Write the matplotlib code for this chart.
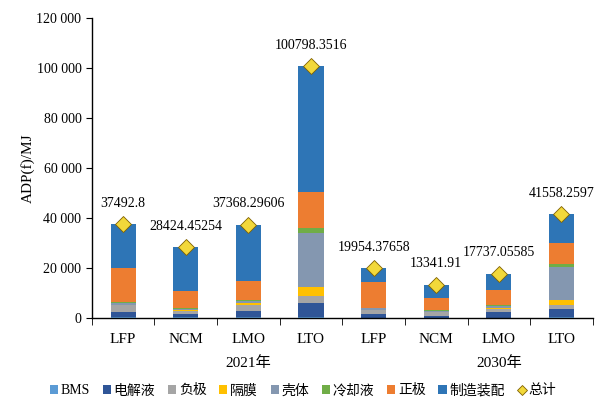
#!/usr/bin/env python3
"""Stacked ADP(f) bars per battery type, 2021 vs 2030, with totals."""

import numpy as np
import matplotlib
matplotlib.use("Agg")
import matplotlib.pyplot as plt
from matplotlib.lines import Line2D

plt.rcParams["font.family"] = ["Liberation Serif", "Noto Sans CJK SC", "DejaVu Sans"]

categories = ["LFP", "NCM", "LMO", "LTO", "LFP", "NCM", "LMO", "LTO"]
groups = ["2021年", "2030年"]
totals = [37492.8, 28424.45254, 37368.29606, 100798.3516,
          19954.37658, 13341.91, 17737.05585, 41558.2597]
total_labels = ["37492.8", "28424.45254", "37368.29606", "100798.3516",
                "19954.37658", "13341.91", "17737.05585", "41558.2597"]

bms = [200, 200, 200, 300, 150, 100, 150, 200]
electrolyte = [2300, 1400, 2700, 5800, 1350, 800, 2150, 3400]
anode = [2500, 1300, 2400, 2800, 1500, 1300, 1300, 1500]
separator = [300, 300, 800, 3600, 200, 200, 500, 2200]
shell = [600, 500, 700, 21600, 600, 400, 700, 13200]
coolant = [300, 300, 200, 1900, 300, 200, 300, 1000]
cathode = [13800, 6700, 7700, 14500, 10400, 5100, 5900, 8400]

parts = {
    "BMS": (bms, "#5B9BD5"),
    "电解液": (electrolyte, "#2F5597"),
    "负极": (anode, "#A5A5A5"),
    "隔膜": (separator, "#FFC000"),
    "壳体": (shell, "#8497B0"),
    "冷却液": (coolant, "#70AD47"),
    "正极": (cathode, "#ED7D31"),
}

fig = plt.figure(figsize=(6.0, 4.04), dpi=100)
ax = fig.add_axes([0.153, 0.213, 0.835, 0.742])

x = np.arange(len(categories))
bottom = np.zeros(len(categories))
handles = []
for name, (vals, color) in parts.items():
    h = ax.bar(x, vals, 0.4, bottom=bottom, color=color, label=name)
    handles.append(h)
    bottom += np.array(vals)

manufacturing = np.array(totals) - bottom
h = ax.bar(x, manufacturing, 0.4, bottom=bottom, color="#2E75B6", label="制造装配")
handles.append(h)

ax.plot(x, totals, linestyle="none", marker="D", markersize=8,
        markerfacecolor="#F2D83A", markeredgecolor="#7F6000",
        markeredgewidth=0.6)
# smaller diamond for the legend entry
handles.append(Line2D([], [], linestyle="none", marker="D", markersize=5,
                      markerfacecolor="#F2D83A", markeredgecolor="#7F6000",
                      markeredgewidth=0.6, label="总计"))

for xi, t, lab in zip(x, totals, total_labels):
    ax.annotate(lab, (xi, t), xytext=(0, 15), textcoords="offset points",
                ha="center", va="center", fontsize=10)

ax.set_xlim(-0.5, len(categories) - 0.5)
ax.set_ylim(0, 120000)
ax.set_yticks(np.arange(0, 120001, 20000))
ax.set_yticklabels([f"{v:,}".replace(",", " ") for v in range(0, 120001, 20000)],
                   fontsize=10)
ax.set_ylabel("ADP(f)/MJ", fontsize=11, labelpad=1)

ax.set_xticks(x)
ax.set_xticklabels(categories, fontsize=11)
ax.tick_params(axis="x", length=0, pad=11)
ax.set_xticks(np.arange(-0.5, len(categories), 1), minor=True)
ax.tick_params(axis="x", which="minor", length=5, direction="out")
ax.tick_params(axis="y", length=4, direction="out")

for side in ("top", "right"):
    ax.spines[side].set_visible(False)
for side in ("left", "bottom"):
    ax.spines[side].set_linewidth(1.0)

ax.text(2.0, -0.15, groups[0], transform=ax.get_xaxis_transform(),
        ha="center", va="center", fontsize=11)
ax.text(6.0, -0.15, groups[1], transform=ax.get_xaxis_transform(),
        ha="center", va="center", fontsize=11)

fig.legend(handles=handles, loc="center", bbox_to_anchor=(0.505, 0.033),
           ncol=9, frameon=False, fontsize=10, handlelength=0.6,
           handleheight=0.6, handletextpad=0.2, columnspacing=0.9)

fig.savefig("out.png", dpi=100, facecolor="white")
